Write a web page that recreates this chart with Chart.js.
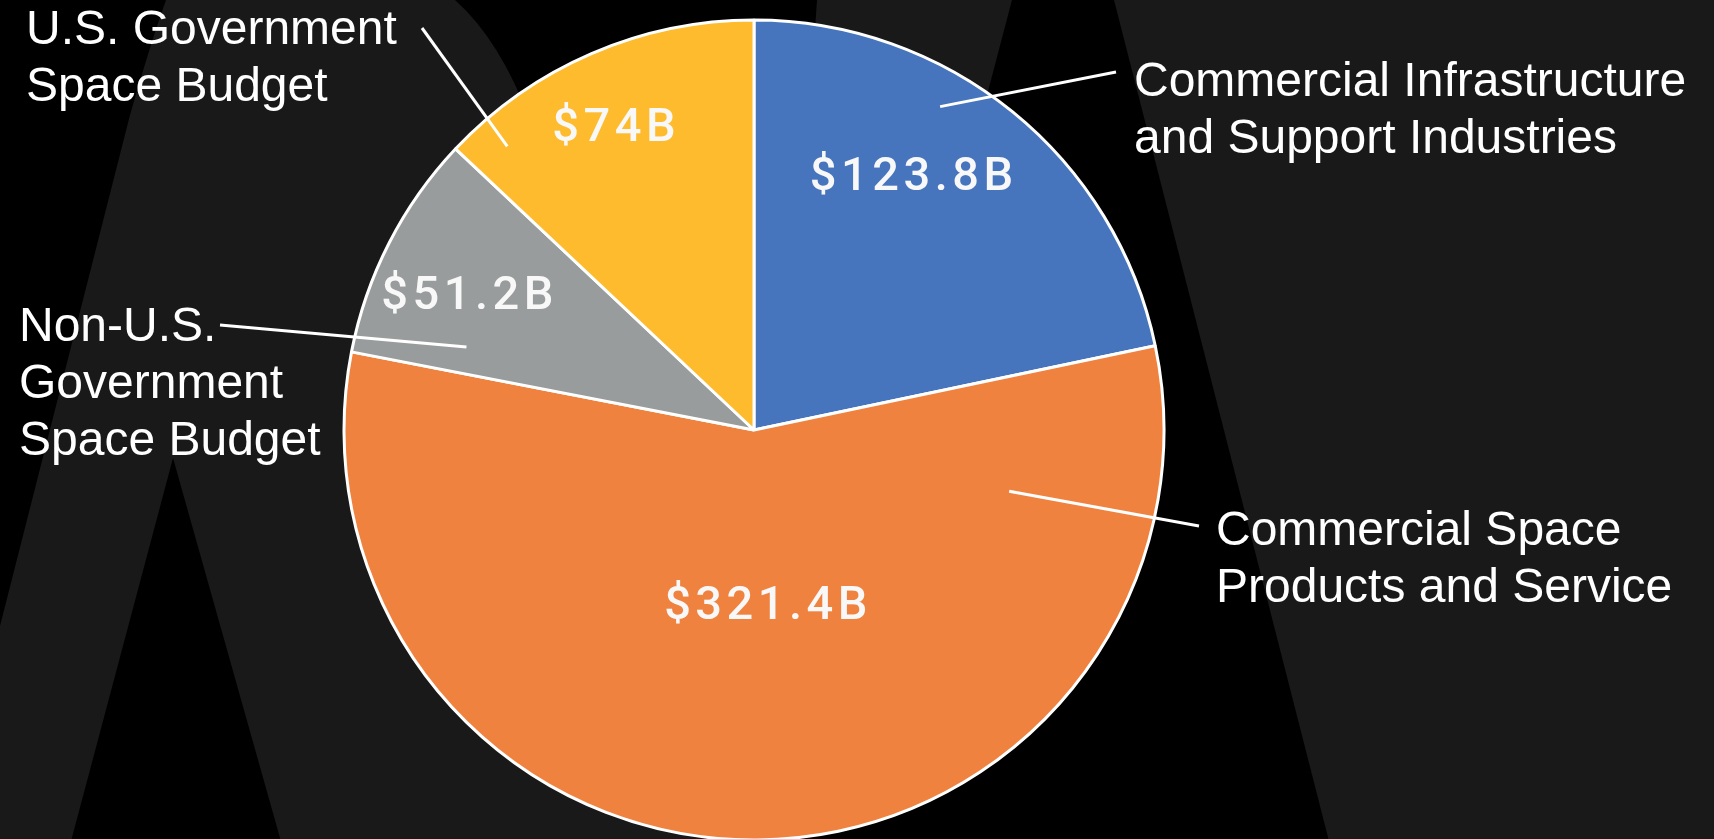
<!DOCTYPE html>
<html>
<head>
<meta charset="utf-8">
<title>Space economy breakdown</title>
<script src="https://cdn.jsdelivr.net/npm/chart.js@4.4.1/dist/chart.umd.min.js"></script>
<style>
  html, body { margin: 0; padding: 0; background: #191919; overflow: hidden; }
  #wrap { position: relative; width: 1714px; height: 839px; }
</style>
</head>
<body>
<div id="wrap"><canvas id="pieChart" width="1714" height="839"></canvas></div>
<script>
const categories = [
  ['Commercial Infrastructure', 'and Support Industries'],
  ['Commercial Space', 'Products and Service'],
  ['Non-U.S.', 'Government', 'Space Budget'],
  ['U.S. Government', 'Space Budget']
];
const budgetBillions = [123.8, 321.4, 51.2, 74];
const sliceColors = ['#4674bd', '#f0823f', '#999c9c', '#fdbb2d'];

// where the value sits inside each slice: [fraction of slice angle, fraction of radius]
// tip = inner end of leader line, end = outer end, text = left/baseline of first label line
const calloutLayout = [
  { value: [0.41, 0.725], tip: [0.383, 0.91], end: [1116, 72], text: [1134, 96] },
  { value: [0.483, 0.433], tip: [0.125, 0.64], end: [1199, 526], text: [1216, 545] },
  { value: [0.43, 0.77], tip: [0.159, 0.73], end: [220, 325], text: [19, 341] },
  { value: [0.467, 0.81], tip: [0.122, 0.917], end: [422, 28], text: [26, 44] }
];

// dark logo watermark behind the chart
const backdrop = {
  id: 'backdrop',
  beforeDraw(chart) {
    const ctx = chart.ctx;
    ctx.save();
    ctx.fillStyle = '#191919';
    ctx.fillRect(0, 0, chart.width, chart.height);
    ctx.fillStyle = '#000000';

    ctx.beginPath();
    ctx.moveTo(0, 0);
    ctx.lineTo(166, 0);
    ctx.quadraticCurveTo(150, 45, 130, 115);
    ctx.lineTo(0, 626);
    ctx.closePath();
    ctx.fill();

    ctx.beginPath();
    ctx.moveTo(455, 0);
    ctx.quadraticCurveTo(500, 40, 530, 120);
    ctx.lineTo(620, 400);
    ctx.lineTo(790, 400);
    ctx.lineTo(817, 0);
    ctx.closePath();
    ctx.fill();

    ctx.beginPath();
    ctx.moveTo(173, 458);
    ctx.lineTo(70, 845);
    ctx.lineTo(282, 845);
    ctx.closePath();
    ctx.fill();

    ctx.beginPath();
    ctx.moveTo(1012, 0);
    ctx.lineTo(1114, 0);
    ctx.lineTo(1330, 845);
    ctx.lineTo(790, 845);
    ctx.closePath();
    ctx.fill();
    ctx.restore();
  }
};

function pointOnArc(arc, frac, rFrac) {
  const p = arc.getProps(['x', 'y', 'startAngle', 'endAngle', 'outerRadius'], true);
  const a = p.startAngle + frac * (p.endAngle - p.startAngle);
  return { x: p.x + Math.cos(a) * rFrac * p.outerRadius, y: p.y + Math.sin(a) * rFrac * p.outerRadius };
}

const callouts = {
  id: 'callouts',
  afterDatasetsDraw(chart) {
    const ctx = chart.ctx;
    const meta = chart.getDatasetMeta(0);
    const values = chart.data.datasets[0].data;
    ctx.save();
    meta.data.forEach((arc, i) => {
      const lay = calloutLayout[i];

      // value inside slice
      const v = pointOnArc(arc, lay.value[0], lay.value[1]);
      ctx.font = '500 47px Roboto';
      ctx.letterSpacing = '4.5px';
      ctx.fillStyle = '#f8f8f8';
      ctx.textAlign = 'center';
      ctx.textBaseline = 'middle';
      ctx.fillText('$' + values[i] + 'B', v.x + 2, v.y);

      // leader line
      const t = pointOnArc(arc, lay.tip[0], lay.tip[1]);
      ctx.strokeStyle = '#ffffff';
      ctx.lineWidth = 3;
      ctx.beginPath();
      ctx.moveTo(t.x, t.y);
      ctx.lineTo(lay.end[0], lay.end[1]);
      ctx.stroke();

      // category label
      ctx.font = '48px "Liberation Sans", Arial, sans-serif';
      ctx.letterSpacing = '0px';
      ctx.fillStyle = '#ffffff';
      ctx.textAlign = 'left';
      ctx.textBaseline = 'alphabetic';
      chart.data.labels[i].forEach((line, k) => {
        ctx.fillText(line, lay.text[0], lay.text[1] + k * 57);
      });
    });
    ctx.restore();
  }
};

new Chart(document.getElementById('pieChart'), {
  type: 'pie',
  data: {
    labels: categories,
    datasets: [{
      data: budgetBillions,
      backgroundColor: sliceColors,
      borderColor: '#ffffff',
      borderWidth: 3
    }]
  },
  options: {
    responsive: false,
    animation: false,
    radius: 410,
    layout: { padding: { left: 0, right: 206, top: 21, bottom: 0 } },
    plugins: {
      legend: { display: false },
      tooltip: { enabled: false }
    }
  },
  plugins: [backdrop, callouts]
});
</script>
</body>
</html>
